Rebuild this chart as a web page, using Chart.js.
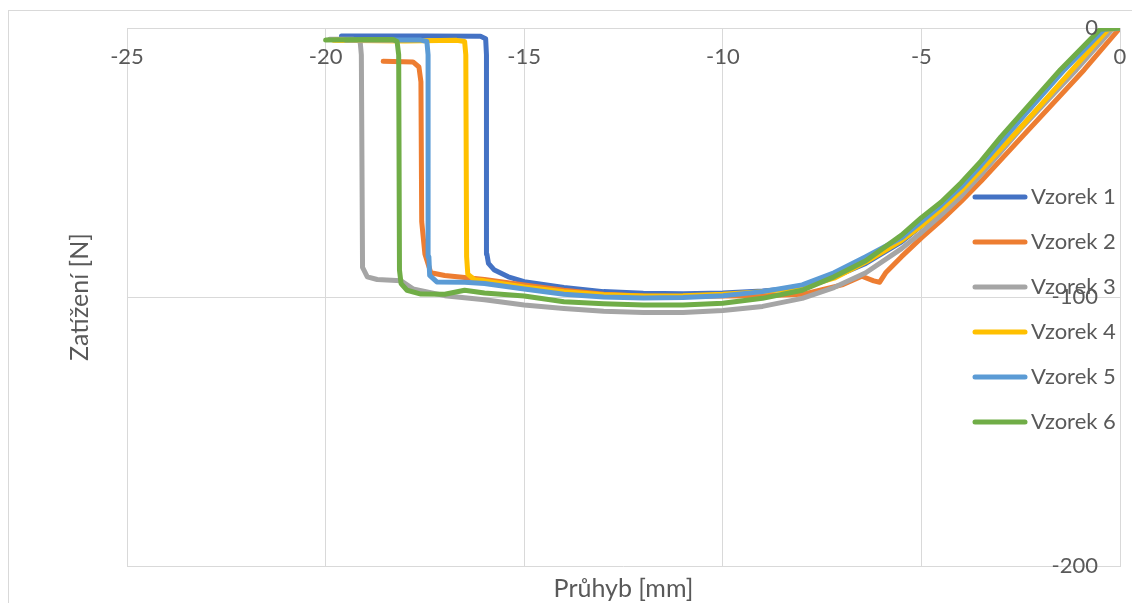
<!DOCTYPE html>
<html>
<head>
<meta charset="utf-8">
<script src="https://cdn.jsdelivr.net/npm/chart.js@4.4.0/dist/chart.umd.min.js"></script>
<style>
  html, body { margin: 0; padding: 0; background: #fff; }
  #wrap { width: 1132px; height: 603px; }
</style>
</head>
<body>
<div id="wrap"><canvas id="myChart" width="1132" height="603"></canvas></div>
<script>
// series: [deflection mm, load N]
const seriesNames = ['Vzorek 1', 'Vzorek 2', 'Vzorek 3', 'Vzorek 4', 'Vzorek 5', 'Vzorek 6'];
const seriesColors = ['#4472C4', '#ED7D31', '#A5A5A5', '#FFC000', '#5B9BD5', '#70AD47'];

const vzorek1 = [[0,0],[-0.25,-0.5],[-1.15,-15.5],[-2.5,-37],[-3.5,-53.5],[-4,-61.5],[-4.5,-68],[-5,-73.5],[-5.5,-79.5],[-6.4,-87.5],[-7.2,-92.5],[-8,-96.5],[-9,-97.8],[-10,-98.5],[-11,-98.8],[-12,-98.6],[-13,-98],[-14,-96.5],[-15,-94.3],[-15.4,-92.5],[-15.75,-90],[-15.9,-87.5],[-15.94,-84],[-15.95,-10],[-15.97,-4],[-16.1,-3.1],[-17.5,-3],[-19.6,-3]];
const vzorek2 = [[0,0],[-0.9,-15.5],[-2.5,-41],[-3.5,-57],[-4,-64.5],[-4.5,-71.5],[-5,-78],[-5.5,-85],[-5.9,-91],[-6.05,-94.5],[-6.2,-94],[-6.5,-92.3],[-7,-95.5],[-8,-99],[-9,-99.5],[-10,-99.6],[-11,-99.8],[-12,-99.6],[-13,-99],[-14,-97.5],[-15,-95.5],[-16,-93.5],[-17,-92],[-17.35,-91],[-17.5,-84],[-17.58,-72],[-17.6,-20],[-17.65,-14.5],[-17.8,-12.6],[-18.55,-12.4]];
const vzorek3 = [[0,0],[-0.2,-0.5],[-1.1,-15.5],[-2.5,-37.5],[-3.5,-54.5],[-4,-62.5],[-4.5,-69.5],[-5,-76],[-5.5,-82],[-6.4,-91],[-7.2,-96.5],[-8,-100.5],[-9,-103.5],[-10,-105],[-11,-105.8],[-12,-105.8],[-13,-105.3],[-14,-104.3],[-15,-103],[-16,-101],[-17,-99.5],[-17.8,-97],[-18.1,-94],[-18.7,-93.5],[-18.95,-92.5],[-19.07,-89],[-19.1,-10],[-19.13,-5],[-19.3,-4.2],[-19.9,-4.2]];
const vzorek4 = [[0,0],[-0.3,-0.5],[-1.2,-15.5],[-2.5,-37],[-3.5,-52.8],[-4,-60.5],[-4.5,-67.3],[-5,-73.5],[-5.5,-79],[-6.4,-87],[-7.2,-93],[-8,-96.5],[-9,-98],[-10,-99],[-11,-99.5],[-12,-99.6],[-13,-99.2],[-14,-98],[-15,-96.3],[-16,-94],[-16.25,-93.6],[-16.42,-91.5],[-16.45,-85],[-16.47,-10],[-16.5,-5],[-16.7,-4.6],[-18,-4.8],[-19.8,-4.6]];
const vzorek5 = [[0,0],[-0.4,-0.5],[-1.4,-15.5],[-2.5,-34],[-3.5,-51],[-4,-59],[-4.5,-65.8],[-5,-72],[-5.5,-78],[-6.4,-85],[-7.2,-91],[-8,-95.5],[-9,-98],[-10,-99.5],[-11,-100.2],[-12,-100.4],[-13,-100],[-14,-99],[-15,-97],[-16,-95],[-16.5,-94.5],[-17.2,-94.4],[-17.38,-92],[-17.4,-85],[-17.42,-10],[-17.45,-5],[-17.6,-4.5],[-19.5,-4.5]];
const vzorek6 = [[0,0],[-0.5,-0.5],[-1.5,-15.5],[-3,-40.5],[-3.5,-49.5],[-4,-57.5],[-4.5,-64.7],[-5,-70.5],[-5.5,-77],[-6.4,-86.5],[-7.2,-92.5],[-8,-97.5],[-9,-100.5],[-10,-102.3],[-11,-103],[-12,-103],[-13,-102.5],[-14,-101.8],[-15,-99.6],[-16,-98.5],[-16.5,-97.5],[-17,-99],[-17.6,-98.9],[-17.95,-97.5],[-18.1,-95],[-18.14,-90],[-18.16,-10],[-18.2,-5],[-18.3,-4.3],[-19,-4.3],[-20,-4.5]];
const allSeries = [vzorek1, vzorek2, vzorek3, vzorek4, vzorek5, vzorek6];

const xTicks = [-25, -20, -15, -10, -5, 0];
const yTicks = [0, -100, -200];
const xTitle = 'Průhyb [mm]';
const yTitle = 'Zatížení [N]';

const FONT = 'Lato, "Open Sans", sans-serif';
const TXT = '#595959';
const GRID = '#d9d9d9';

const decor = {
  id: 'decor',
  beforeDraw(chart) {
    const ctx = chart.ctx;
    ctx.save();
    ctx.fillStyle = '#fff';
    ctx.fillRect(0, 0, chart.width, chart.height);
    ctx.strokeStyle = GRID;
    ctx.lineWidth = 1;
    ctx.strokeRect(8.5, 10.5, chart.width + 20, chart.height + 20);
    ctx.restore();
  },
  afterDatasetsDraw(chart) {
    const ctx = chart.ctx;
    const sx = chart.scales.x, sy = chart.scales.y;
    const area = chart.chartArea;
    ctx.save();
    ctx.fillStyle = TXT;
    ctx.font = '22px ' + FONT;
    ctx.textBaseline = 'middle';
    // x tick labels hang under the y=0 line
    ctx.textAlign = 'center';
    xTicks.forEach(v => ctx.fillText(String(v), sx.getPixelForValue(v), sy.getPixelForValue(0) + 29));
    // y tick labels sit left of the x=0 line
    ctx.textAlign = 'right';
    yTicks.forEach(v => ctx.fillText(String(v), sx.getPixelForValue(0) - 22, sy.getPixelForValue(v)));

    // axis titles
    ctx.font = '25px ' + FONT;
    ctx.textAlign = 'center';
    ctx.fillText(xTitle, (area.left + area.right) / 2, 589);
    ctx.save();
    ctx.translate(80, (area.top + area.bottom) / 2);
    ctx.rotate(-Math.PI / 2);
    ctx.fillText(yTitle, 0, 0);
    ctx.restore();

    // legend on the right, over the plot
    ctx.font = '22px ' + FONT;
    ctx.textAlign = 'left';
    ctx.lineWidth = 5;
    ctx.lineCap = 'round';
    seriesNames.forEach((name, i) => {
      const y = 197 + i * 45;
      ctx.strokeStyle = seriesColors[i];
      ctx.beginPath();
      ctx.moveTo(975, y);
      ctx.lineTo(1025, y);
      ctx.stroke();
      ctx.fillText(name, 1031, y);
    });
    ctx.restore();
  }
};

const ctx = document.getElementById('myChart').getContext('2d');
const myChart = new Chart(ctx, {
  type: 'scatter',
  data: {
    datasets: allSeries.map((pts, i) => ({
      label: seriesNames[i],
      data: pts.map(p => ({ x: p[0], y: p[1] })),
      showLine: true,
      borderColor: seriesColors[i],
      backgroundColor: seriesColors[i],
      borderWidth: 5,
      pointRadius: 0,
      tension: 0,
      borderJoinStyle: 'round',
      borderCapStyle: 'round',
      order: 6 - i
    }))
  },
  options: {
    responsive: false,
    animation: false,
    devicePixelRatio: 1,
    layout: { padding: { left: 127, right: 12, top: 28, bottom: 37 } },
    plugins: { legend: { display: false }, tooltip: { enabled: false } },
    scales: {
      x: {
        type: 'linear', min: -25, max: 0,
        position: { y: 0 },
        afterBuildTicks: s => { s.ticks = xTicks.map(v => ({ value: v })); },
        ticks: { display: false },
        grid: { color: GRID, lineWidth: 1, drawTicks: false },
        border: { color: GRID }
      },
      y: {
        type: 'linear', min: -200, max: 0,
        position: { x: 0 },
        afterBuildTicks: s => { s.ticks = yTicks.map(v => ({ value: v })); },
        ticks: { display: false },
        grid: { color: GRID, lineWidth: 1, drawTicks: false },
        border: { color: GRID }
      }
    }
  },
  plugins: [decor]
});
</script>
</body>
</html>
